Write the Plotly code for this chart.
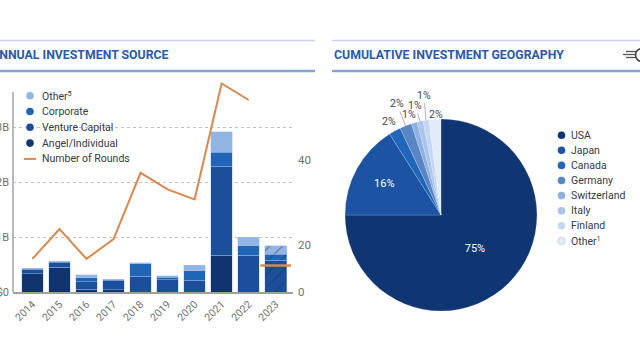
import plotly.graph_objects as go
import numpy as np

# ---------------- data ----------------
years = ["2014", "2015", "2016", "2017", "2018", "2019", "2020", "2021", "2022", "2023"]
angel = [0.33, 0.45, 0.05, 0.04, 0.0, 0.0, 0.0, 0.67, 0.0, 0.0]
venture = [0.08, 0.09, 0.14, 0.17, 0.29, 0.22, 0.21, 1.62, 0.67, 0.58]
corporate = [0.01, 0.01, 0.07, 0.01, 0.225, 0.05, 0.18, 0.25, 0.17, 0.11]
other = [0.015, 0.005, 0.05, 0.01, 0.02, 0.025, 0.10, 0.37, 0.16, 0.15]
rounds = [10, 19, 10, 16, 36, 31, 28, 63, 58, 8]

y_tickvals = [0, 1, 2, 3]
y_ticktext = ["$0", "$1B", "$2B", "$3B"]
y2_tickvals = [0, 14.2, 40]
y2_ticktext = ["0", "20", "40"]

geo_labels = ["USA", "Japan", "Canada", "Germany", "Switzerland", "Italy", "Finland", "Other"]
geo_legend = ["USA", "Japan", "Canada", "Germany", "Switzerland", "Italy", "Finland", "Other<sup>1</sup>"]
geo_values = [75, 16, 2, 2, 1, 1, 1, 2]

src_legend = ["Other<sup>5</sup>", "Corporate", "Venture Capital", "Angel/Individual"]

# ---------------- styles ----------------
W, H = 640, 360
OFF = 0
C_ANGEL, C_VC, C_CORP, C_OTHER = "#0f3470", "#1b4f9c", "#1f66b8", "#92b5e4"
C_LINE = "#d8894f"
geo_colors = ["#0f3672", "#1d53a3", "#2066ba", "#5a85c3", "#8fb1e1", "#a9c5eb", "#c5d8f2", "#e2ecf8"]
TXT = "#333a45"
GRAY = "#777777"
LEG_FONT = "Roboto"
LEG_SIZE = 10.5
TITLE_C = "#2b5aa8"

def px(x):
    return (x - OFF) / W

def py(y):
    return 1 - (y - OFF) / H

Y0, YTOP = 292, 70          # pixel rows for value 0 and top of plotting domain
B_PX, R_PX = 55.0, 3.31     # pixels per $1B and per round

fig = go.Figure()

pat_shapes = ["" for _ in years]
pat_shapes[-1] = "/"
for name, vals, col in [("Angel/Individual", angel, C_ANGEL), ("Venture Capital", venture, C_VC),
                        ("Corporate", corporate, C_CORP), ("Other", other, C_OTHER)]:
    fig.add_trace(go.Bar(
        x=years, y=vals, name=name, width=0.8, showlegend=False,
        marker=dict(color=col, line=dict(color="rgba(170,195,235,0.7)", width=0.6),
                    pattern=dict(shape=pat_shapes, fgcolor="#1a2940", size=9, solidity=0.12)),
        xaxis="x", yaxis="y"))

fig.add_trace(go.Scatter(x=years[:-1], y=rounds[:-1], mode="lines", showlegend=False,
                         line=dict(color=C_LINE, width=2), cliponaxis=False,
                         xaxis="x", yaxis="y2"))
fig.add_trace(go.Scatter(x=years[-1:], y=rounds[-1:], mode="markers", showlegend=False,
                         marker=dict(symbol="line-ew", size=22, line=dict(color=C_LINE, width=2.5)),
                         cliponaxis=False, xaxis="x", yaxis="y2"))

texttemplates = ["%{percent:.0%}", "%{percent:.0%}"] + [""] * (len(geo_values) - 2)
fig.add_trace(go.Pie(
    labels=geo_labels, values=geo_values, sort=False, direction="clockwise", rotation=0,
    marker=dict(colors=geo_colors, line=dict(color="rgba(255,255,255,0.35)", width=0.5)),
    texttemplate=texttemplates, textposition="inside", insidetextorientation="horizontal",
    textfont=dict(color="white", size=11, family="Roboto"),
    domain=dict(x=[px(345), px(537)], y=[py(311), py(119)]),
    showlegend=False, hoverinfo="label+percent"))

shapes = []
annotations = []

# header rules
for x0, x1 in [(0, 315), (332, 640)]:
    shapes.append(dict(type="line", xref="paper", yref="paper", x0=px(x0), x1=px(x1),
                       y0=py(40.5), y1=py(40.5), line=dict(color="#c9d5ea", width=1.5)))
    shapes.append(dict(type="line", xref="paper", yref="paper", x0=px(x0), x1=px(x1),
                       y0=py(71), y1=py(71), line=dict(color="#86a2d6", width=2.5)))

# left axis line
shapes.append(dict(type="line", xref="paper", yref="paper", x0=px(13), x1=px(13),
                   y0=py(92), y1=py(Y0), line=dict(color="#8c8c8c", width=1.2)))

# titles
annotations.append(dict(text="<b>ANNUAL INVESTMENT SOURCE</b>", xref="paper", yref="paper",
                        x=px(-11), y=py(55), xanchor="left", yanchor="middle", showarrow=False,
                        font=dict(family="Roboto", size=12.3, color=TITLE_C)))
annotations.append(dict(text="<b>CUMULATIVE INVESTMENT GEOGRAPHY</b>", xref="paper", yref="paper",
                        x=px(332), y=py(55), xanchor="left", yanchor="middle", showarrow=False,
                        font=dict(family="Roboto", size=12.3, color=TITLE_C)))

# logo fragment top-right
for yy, xs in [(51.5, 626), (54.5, 623), (57.5, 626)]:
    shapes.append(dict(type="line", xref="paper", yref="paper", x0=px(xs), x1=px(636),
                       y0=py(yy), y1=py(yy), line=dict(color="#555", width=1.3)))
shapes.append(dict(type="circle", xref="paper", yref="paper", xsizemode="pixel", ysizemode="pixel",
                   xanchor=px(642), yanchor=py(55), x0=-6.5, x1=6.5, y0=-6.5, y1=6.5,
                   line=dict(color="#444", width=1.6)))

# left legend (manual)
leg_y0, leg_dy = 95.7, 15.8
src_colors = [C_OTHER, C_CORP, C_VC, C_ANGEL]
for i, (nm, col) in enumerate(zip(src_legend, src_colors)):
    yy = leg_y0 + i * leg_dy
    shapes.append(dict(type="circle", xref="paper", yref="paper", xsizemode="pixel", ysizemode="pixel",
                       xanchor=px(30), yanchor=py(yy), x0=-3.8, x1=3.8, y0=-3.8, y1=3.8,
                       fillcolor=col, line=dict(width=0)))
    annotations.append(dict(text=nm, xref="paper", yref="paper", x=px(40), y=py(yy),
                            xanchor="left", yanchor="middle", showarrow=False,
                            font=dict(family=LEG_FONT, size=LEG_SIZE, color=TXT)))
yy = leg_y0 + 4 * leg_dy
shapes.append(dict(type="line", xref="paper", yref="paper", x0=px(24), x1=px(36), y0=py(yy), y1=py(yy),
                   line=dict(color=C_LINE, width=2)))
annotations.append(dict(text="Number of Rounds", xref="paper", yref="paper", x=px(40), y=py(yy),
                        xanchor="left", yanchor="middle", showarrow=False,
                        font=dict(family=LEG_FONT, size=LEG_SIZE, color=TXT)))

# pie legend (manual)
pl_y0, pl_dy = 135.2, 15.1
for i, (nm, col) in enumerate(zip(geo_legend, geo_colors)):
    yy = pl_y0 + i * pl_dy
    shapes.append(dict(type="circle", xref="paper", yref="paper", xsizemode="pixel", ysizemode="pixel",
                       xanchor=px(561.5), yanchor=py(yy), x0=-3.8, x1=3.8, y0=-3.8, y1=3.8,
                       fillcolor=col, line=dict(width=0.6 if i == len(geo_legend) - 1 else 0,
                                                color="#b8c6da")))
    annotations.append(dict(text=nm, xref="paper", yref="paper", x=px(569), y=py(yy),
                            xanchor="left", yanchor="middle", showarrow=False,
                            font=dict(family=LEG_FONT, size=LEG_SIZE, color=TXT)))

# outside pie labels with leader lines (computed from slice angles)
cx, cy, r = 441, 215, 96
tot = float(sum(geo_values))
cum = np.cumsum([0] + geo_values)
offsets = {2: (-6, -9), 3: (-9, -22), 4: (-5, -8), 5: (-5, -16), 6: (-2, -25), 7: (1, -5)}
for i in range(2, len(geo_values)):
    mid = (cum[i] + cum[i + 1]) / 2 / tot * 2 * np.pi
    tx, ty = cx + r * np.sin(mid), cy - r * np.cos(mid)
    ax, ay = offsets[i]
    annotations.append(dict(text=f"{geo_values[i] / tot:.0%}", xref="paper", yref="paper",
                            x=px(tx), y=py(ty), ax=ax, ay=ay, showarrow=True, arrowhead=0,
                            arrowwidth=0.7, arrowcolor="#8a8f98", standoff=0,
                            font=dict(family=LEG_FONT, size=10.5, color="#3b4555")))

fig.update_layout(
    width=W, height=H, margin=dict(l=0, r=0, t=0, b=0, autoexpand=False),
    paper_bgcolor="white", plot_bgcolor="white", barmode="stack", bargap=0.2,
    showlegend=False, shapes=shapes, annotations=annotations,
    font=dict(family="Roboto", color=GRAY),
    xaxis=dict(domain=[px(13), px(293)], anchor="y", type="category", range=[-0.72, 9.64],
               tickangle=-45, tickfont=dict(size=10.5, color="#6f6f6f"), showgrid=False,
               showline=True, linecolor="#a0a0a0", linewidth=2, ticks="", automargin=False),
    yaxis=dict(domain=[py(Y0), py(YTOP)], range=[0, (Y0 - YTOP) / B_PX], tickvals=y_tickvals,
               ticktext=y_ticktext, showline=False, showgrid=True, gridcolor="#b8c4d6",
               griddash="dot", gridwidth=1, zeroline=False, ticks="", ticklabelstandoff=3,
               tickfont=dict(size=11, color="#6f6f6f"), automargin=False),
    yaxis2=dict(domain=[py(Y0), py(YTOP)], overlaying="y", side="right", anchor="x",
                range=[0, (Y0 - YTOP) / R_PX], tickvals=y2_tickvals, ticktext=y2_ticktext,
                showgrid=False, zeroline=False, showline=False, ticks="", ticklabelstandoff=4,
                tickfont=dict(size=11.5, color="#6f6f6f"), automargin=False),
)

fig.write_html("out.html", config={"displayModeBar": False},
               post_script="document.body.style.margin='0';")
